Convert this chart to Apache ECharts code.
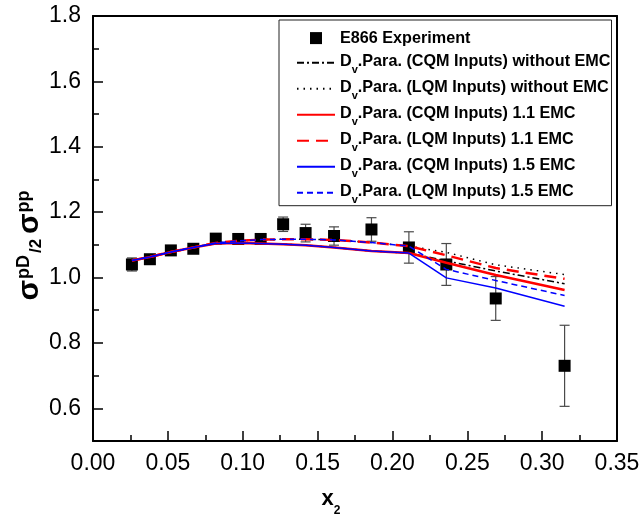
<!DOCTYPE html>
<html>
<head>
<meta charset="utf-8">
<style>
  html, body { margin: 0; padding: 0; background: #fff; }
  #chart { width: 644px; height: 516px; }
</style>
<script src="https://cdn.jsdelivr.net/npm/echarts@6/dist/echarts.min.js"></script>
</head>
<body>
<div id="chart"></div>
<script>
// x2 bins of the E866 measurement
const x2 = [0.026, 0.038, 0.052, 0.067, 0.082, 0.097, 0.112, 0.127, 0.142, 0.161, 0.186, 0.211, 0.236, 0.269, 0.315];

// E866 ratio sigma^pD / 2 sigma^pp and its uncertainty
const e866 = [1.040, 1.056, 1.083, 1.088, 1.119, 1.118, 1.118, 1.163, 1.136, 1.127, 1.147, 1.092, 1.040, 0.936, 0.730];
const e866Err = [0.020, 0.010, 0.008, 0.008, 0.008, 0.008, 0.010, 0.022, 0.027, 0.028, 0.036, 0.048, 0.064, 0.067, 0.124];

// Model curves evaluated at the same x2 bins
const cqmNoEmc = [1.052, 1.063, 1.078, 1.092, 1.104, 1.106, 1.104, 1.102, 1.099, 1.092, 1.081, 1.075, 1.051, 1.020, 0.981];
const lqmNoEmc = [1.052, 1.063, 1.078, 1.092, 1.106, 1.112, 1.116, 1.117, 1.117, 1.115, 1.107, 1.096, 1.077, 1.039, 1.009];
const cqmEmc11 = [1.052, 1.063, 1.078, 1.092, 1.104, 1.106, 1.104, 1.102, 1.099, 1.092, 1.081, 1.075, 1.045, 1.008, 0.962];
const lqmEmc11 = [1.052, 1.063, 1.078, 1.092, 1.106, 1.112, 1.116, 1.117, 1.117, 1.115, 1.107, 1.096, 1.068, 1.029, 0.996];
const cqmEmc15 = [1.052, 1.063, 1.078, 1.092, 1.104, 1.106, 1.104, 1.102, 1.099, 1.092, 1.081, 1.075, 0.999, 0.968, 0.912];
const lqmEmc15 = [1.052, 1.063, 1.078, 1.092, 1.106, 1.112, 1.116, 1.117, 1.117, 1.115, 1.107, 1.096, 1.025, 0.991, 0.945];

// Series labels
const names = [
  'E866 Experiment',
  'D_v.Para. (CQM Inputs) without EMC',
  'D_v.Para. (LQM Inputs) without EMC',
  'D_v.Para. (CQM Inputs) 1.1 EMC',
  'D_v.Para. (LQM Inputs) 1.1 EMC',
  'D_v.Para. (CQM Inputs) 1.5 EMC',
  'D_v.Para. (LQM Inputs) 1.5 EMC'
];

// Axis ticks
const yMajor = [0.6, 0.8, 1.0, 1.2, 1.4, 1.6, 1.8];
const yMinor = [0.7, 0.9, 1.1, 1.3, 1.5, 1.7];

const FONT = '"Liberation Sans", Arial, Helvetica, sans-serif';
const axisColor = '#000';

function curve(name, values, color, width, type) {
  return {
    name: name,
    type: 'line',
    data: x2.map((x, i) => [x, values[i]]),
    symbol: 'none',
    showSymbol: false,
    lineStyle: { color: color, width: width, type: type },
    itemStyle: { color: color },
    z: 5,
    animation: false
  };
}

// legend entries for curves show only the line sample
function lineEntry(name) {
  return { name: name, itemStyle: { opacity: 0 } };
}

const chart = echarts.init(document.getElementById('chart'), null, { renderer: 'canvas' });

chart.setOption({
  backgroundColor: '#fff',
  animation: false,
  grid: { left: 93, right: 27, top: 16, bottom: 75, containLabel: false },
  xAxis: [
    {
      type: 'value', position: 'bottom', min: 0, max: 0.35, interval: 0.05,
      axisLine: { show: true, onZero: false, lineStyle: { color: axisColor, width: 2 } },
      axisTick: { show: true, inside: true, length: 10, lineStyle: { color: axisColor, width: 1.5 } },
      minorTick: { show: true, splitNumber: 2, length: 6, lineStyle: { color: axisColor, width: 1.5 } },
      axisLabel: {
        color: '#000', fontSize: 23, fontFamily: FONT, margin: 11,
        showMinLabel: true, showMaxLabel: true,
        formatter: v => v.toFixed(2)
      },
      splitLine: { show: false }
    },
    {
      type: 'value', position: 'top', min: 0, max: 0.35,
      axisLine: { show: true, onZero: false, lineStyle: { color: axisColor, width: 2 } },
      axisTick: { show: false }, axisLabel: { show: false }, splitLine: { show: false }
    }
  ],
  yAxis: [
    {
      type: 'value', position: 'left', min: 0.5, max: 1.8,
      axisLine: { show: true, onZero: false, lineStyle: { color: axisColor, width: 2 } },
      axisTick: { show: true, inside: true, length: 10, customValues: yMajor, lineStyle: { color: axisColor, width: 1.5 } },
      axisLabel: {
        color: '#000', fontSize: 23, fontFamily: FONT, margin: 12,
        customValues: yMajor,
        formatter: v => Number(v).toFixed(1)
      },
      splitLine: { show: false }
    },
    {
      type: 'value', position: 'left', min: 0.5, max: 1.8,
      axisLine: { show: false },
      axisTick: { show: true, inside: true, length: 6, customValues: yMinor, lineStyle: { color: axisColor, width: 1.5 } },
      axisLabel: { show: false },
      splitLine: { show: false }
    },
    {
      type: 'value', position: 'right', min: 0.5, max: 1.8,
      axisLine: { show: true, onZero: false, lineStyle: { color: axisColor, width: 2 } },
      axisTick: { show: false }, axisLabel: { show: false }, splitLine: { show: false }
    }
  ],
  legend: {
    orient: 'vertical',
    left: 279, top: 20,
    padding: [6.5, 1, 0, 17],
    itemGap: 4,
    itemWidth: 38,
    itemHeight: 12,
    borderColor: '#222',
    borderWidth: 1,
    backgroundColor: '#fff',
    data: [
      { name: names[0], icon: 'path://M0 0H10V10H0Z' },
      lineEntry(names[1]), lineEntry(names[2]), lineEntry(names[3]),
      lineEntry(names[4]), lineEntry(names[5]), lineEntry(names[6])
    ],
    formatter: function (name) {
      if (name.indexOf('D_v') === 0) {
        return '{b|D}{v|v}{b|' + name.slice(3) + '}';
      }
      return '{e|' + name + '}';
    },
    textStyle: {
      rich: {
        e: { fontSize: 16.2, fontWeight: 'bold', fontFamily: FONT, color: '#000', lineHeight: 18, padding: [3.6, 0, 3.6, 0] },
        b: { fontSize: 16.2, fontWeight: 'bold', fontFamily: FONT, color: '#000', lineHeight: 18, verticalAlign: 'top' },
        v: { fontSize: 11, fontWeight: 'bold', fontFamily: FONT, color: '#000', lineHeight: 11, padding: [11, 0, 0, 0], verticalAlign: 'top' }
      }
    }
  },
  graphic: [
    {
      type: 'text', x: 30, y: 245, rotation: Math.PI / 2,
      style: {
        text: '{s|σ}{sup|pD}{sub|/2}{s|σ}{sup|pp}',
        align: 'center', verticalAlign: 'middle',
        rich: {
          s: { fontSize: 30, fontWeight: 'bold', fontFamily: FONT, fill: '#000', lineHeight: 30, verticalAlign: 'bottom', padding: [0, 1, 0, 1] },
          sup: { fontSize: 18, fontWeight: 'bold', fontFamily: FONT, fill: '#000', lineHeight: 15, verticalAlign: 'top', padding: [0, 2, 0, 0] },
          sub: { fontSize: 17, fontWeight: 'bold', fontFamily: FONT, fill: '#000', lineHeight: 17, verticalAlign: 'bottom', padding: [0, 4, 0, 0] }
        }
      }
    },
    {
      type: 'text', x: 331, y: 499,
      style: {
        text: '{x|x}{n|2}',
        align: 'center', verticalAlign: 'middle',
        rich: {
          x: { fontSize: 22, fontWeight: 'bold', fontFamily: FONT, fill: '#000', lineHeight: 22, verticalAlign: 'top' },
          n: { fontSize: 12, fontWeight: 'bold', fontFamily: FONT, fill: '#000', lineHeight: 12, padding: [17, 0, 0, 0], verticalAlign: 'top' }
        }
      }
    }
  ],
  series: [
    {
      name: 'error',
      type: 'custom',
      data: x2.map((x, i) => [x, e866[i] - e866Err[i], e866[i] + e866Err[i]]),
      encode: { x: 0, y: [1, 2] },
      renderItem: function (params, api) {
        const lo = api.coord([api.value(0), api.value(1)]);
        const hi = api.coord([api.value(0), api.value(2)]);
        const half = 5;
        const st = { stroke: '#4a4a4a', lineWidth: 1.2 };
        return {
          type: 'group',
          children: [
            { type: 'line', shape: { x1: lo[0], y1: lo[1], x2: hi[0], y2: hi[1] }, style: st },
            { type: 'line', shape: { x1: lo[0] - half, y1: lo[1], x2: lo[0] + half, y2: lo[1] }, style: st },
            { type: 'line', shape: { x1: hi[0] - half, y1: hi[1], x2: hi[0] + half, y2: hi[1] }, style: st }
          ]
        };
      },
      z: 1,
      silent: true
    },
    {
      name: names[0],
      type: 'scatter',
      data: x2.map((x, i) => [x, e866[i]]),
      symbol: 'rect',
      symbolSize: 12,
      itemStyle: { color: '#000', opacity: 1 },
      z: 3
    },
    curve(names[1], cqmNoEmc, '#000', 1.5, [7, 3, 2, 3]),
    curve(names[2], lqmNoEmc, '#000', 1.5, [1.5, 5]),
    curve(names[3], cqmEmc11, '#ff0000', 2.5, 'solid'),
    curve(names[4], lqmEmc11, '#ff0000', 2.5, [12, 7]),
    curve(names[5], cqmEmc15, '#0000ff', 1.5, 'solid'),
    curve(names[6], lqmEmc15, '#0000ff', 1.5, [6, 4])
  ]
});
</script>
</body>
</html>
